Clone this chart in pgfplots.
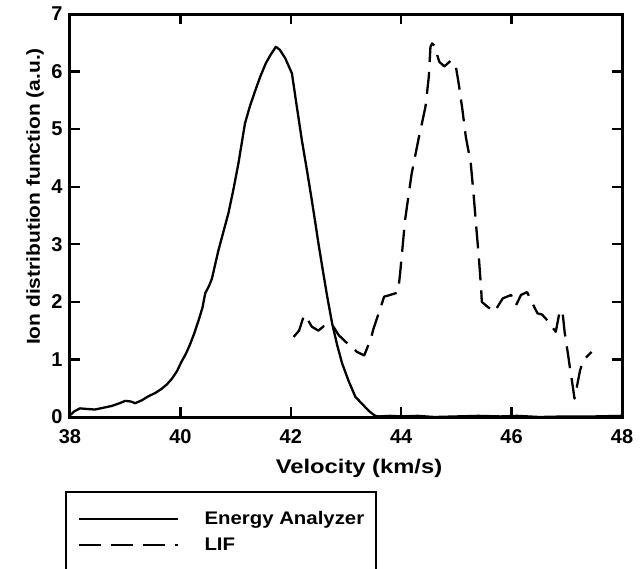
\documentclass[border=0pt]{standalone}
\usepackage{pgfplots}
\pgfplotsset{compat=1.18}
\usepackage{fontspec}
\setmainfont{Liberation Sans}
\newfontfamily\labfont[FakeStretch=1.12]{Liberation Sans}
\newfontfamily\xlabfont[FakeStretch=1.2]{Liberation Sans}
\begin{document}
\begin{tikzpicture}[x=1pt,y=1pt]
\useasboundingbox (0,0) rectangle (643,-568);
\begin{axis}[
  at={(70pt,-417pt)}, anchor=south west,
  scale only axis, width=552pt, height=403pt,
  xmin=38, xmax=48, ymin=0, ymax=7,
  xtick={38,40,...,48}, ytick={0,1,...,7},
  tick align=inside, major tick length=10pt,
  separate axis lines,
  every outer x axis line/.append style={line width=3pt, line cap=rect},
  every outer y axis line/.append style={line width=3pt, line cap=rect},
  tick style={line width=2.4pt, black},
  /pgf/number format/assume math mode=true,
  ticklabel style={font=\fontsize{20}{22}\selectfont\bfseries},
  xticklabel style={yshift=-9pt},
  yticklabel style={xshift=-4pt},
  xlabel={Velocity (km/s)},
  xlabel style={at={(axis description cs:0.5236,-0.1266)}, anchor=center, font=\xlabfont\bfseries\fontsize{19.8}{24}\selectfont},
  ylabel={Ion distribution function (a.u.)},
  ylabel style={at={(axis description cs:-0.0634,0.547)}, anchor=center, font=\labfont\bfseries\fontsize{18.7}{22}\selectfont},
  legend cell align=left,
  legend image code/.code={\draw[#1] (0pt,0pt) -- (99pt,0pt);},
  legend style={at={(-0.009,-0.1836)}, anchor=north west, draw=black, line width=2.4pt,
    inner xsep=12pt, inner ysep=18pt, row sep=9pt, column sep=25pt,
    font=\labfont\bfseries\fontsize{18.2}{22}\selectfont,
    nodes={inner sep=0pt, text height=14pt, text depth=3pt}},
]
\addplot[black, line width=2.3pt, line join=round] coordinates {
(38.00,0.03)(38.08,0.10)(38.18,0.15)(38.30,0.14)(38.45,0.13)(38.60,0.16)(38.75,0.19)
(38.90,0.24)(39.00,0.28)(39.10,0.27)(39.18,0.24)(39.30,0.29)(39.42,0.36)(39.55,0.42)
(39.66,0.49)(39.76,0.57)(39.85,0.67)(39.94,0.80)(40.02,0.96)(40.10,1.10)(40.17,1.25)
(40.25,1.45)(40.33,1.68)(40.40,1.90)(40.45,2.15)(40.52,2.28)(40.57,2.40)(40.63,2.65)
(40.69,2.90)(40.78,3.22)(40.87,3.54)(40.96,3.95)(41.05,4.40)(41.11,4.75)(41.17,5.10)
(41.26,5.40)(41.36,5.68)(41.45,5.92)(41.55,6.15)(41.64,6.30)(41.73,6.43)(41.80,6.38)
(41.90,6.23)(41.96,6.10)(42.02,5.97)(42.10,5.45)(42.20,4.81)(42.29,4.30)(42.38,3.77)
(42.44,3.40)(42.50,3.02)(42.58,2.55)(42.66,2.09)(42.75,1.62)(42.84,1.25)(42.93,0.93)
(43.05,0.62)(43.17,0.35)(43.30,0.22)(43.42,0.10)(43.53,0.02)(43.60,0.01)(43.80,0.02)
(44.00,0.01)(44.30,0.02)(44.60,0.00)(45.00,0.01)(45.40,0.02)(45.80,0.01)(46.10,0.02)
(46.50,0.00)(47.00,0.01)(47.50,0.01)(48.00,0.02)
};
\addlegendentry{Energy Analyzer}
\addplot[black, line width=2.3pt, dash pattern=on 22pt off 10pt, line join=round] coordinates {
(42.05,1.39)(42.15,1.50)(42.24,1.77)(42.30,1.70)(42.38,1.57)(42.50,1.50)(42.60,1.58)
(42.75,1.60)(42.87,1.42)(43.00,1.30)(43.10,1.22)(43.20,1.13)(43.33,1.07)(43.45,1.36)
(43.50,1.54)(43.63,1.91)(43.69,2.09)(43.80,2.12)(43.93,2.16)(43.96,2.32)(43.98,2.49)
(44.07,3.42)(44.13,3.83)(44.19,4.23)(44.31,4.81)(44.44,5.39)(44.50,5.91)(44.53,6.43)
(44.56,6.49)(44.60,6.45)(44.69,6.17)(44.78,6.09)(44.84,6.14)(44.90,6.19)(44.96,6.15)
(44.99,6.09)(45.05,5.74)(45.11,5.33)(45.17,4.87)(45.26,4.41)(45.31,3.88)(45.36,3.30)
(45.41,2.73)(45.45,2.20)(45.46,2.00)(45.57,1.91)(45.69,1.83)(45.84,2.06)(45.99,2.12)
(46.08,1.94)(46.17,2.12)(46.28,2.17)(46.38,1.97)(46.47,1.80)(46.55,1.78)(46.62,1.71)
(46.80,1.48)(46.87,1.83)(46.92,1.85)(46.96,1.48)(47.02,1.10)(47.05,0.90)(47.11,0.52)
(47.14,0.32)(47.20,0.61)(47.24,0.81)(47.30,0.99)(47.45,1.13)
};
\addlegendentry{LIF}
\end{axis}
\end{tikzpicture}
\end{document}
